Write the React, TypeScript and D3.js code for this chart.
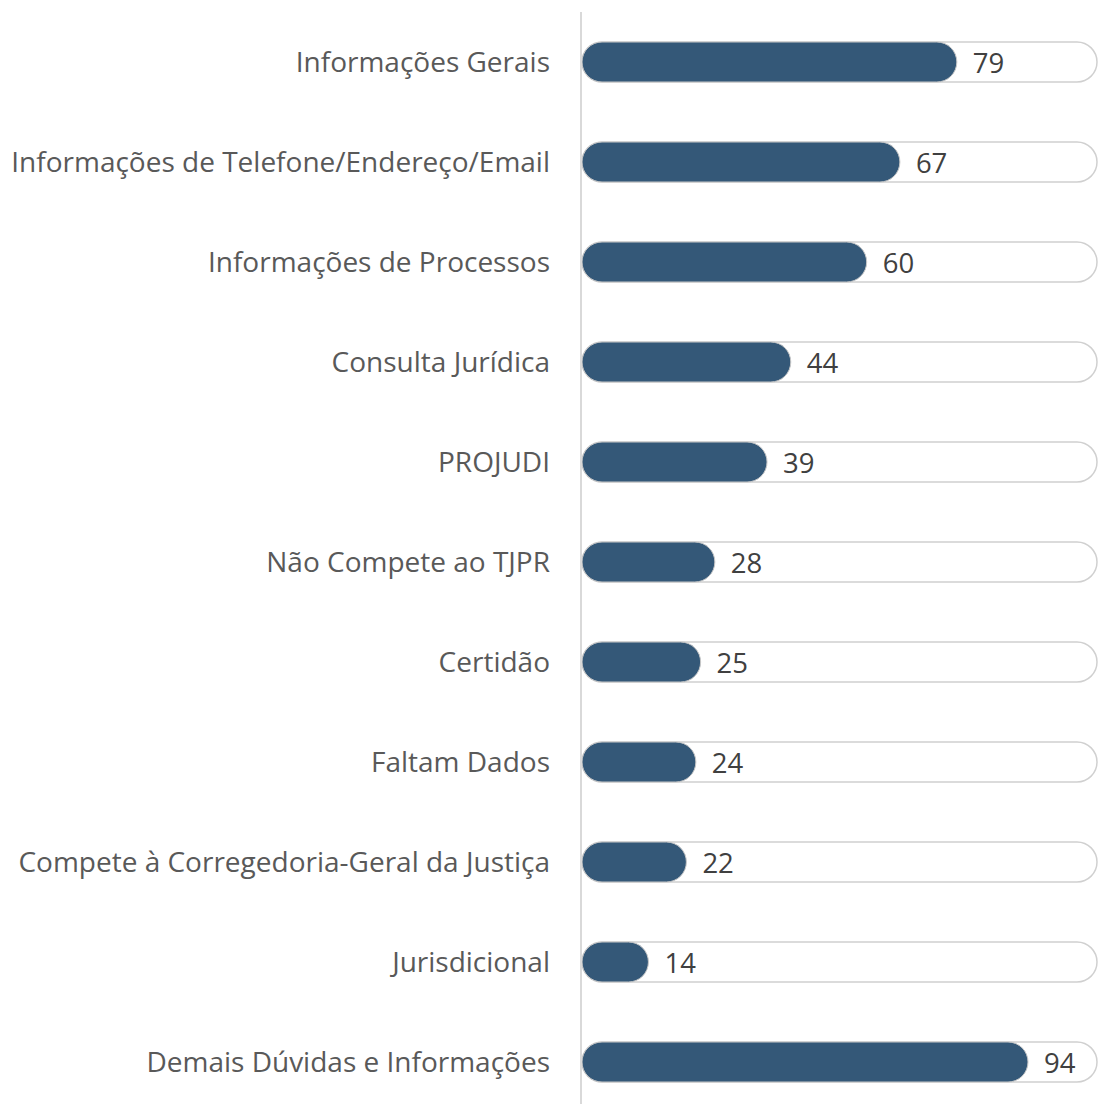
import React from "react";
import * as d3 from "d3";

const categories = [
  "Informações Gerais",
  "Informações de Telefone/Endereço/Email",
  "Informações de Processos",
  "Consulta Jurídica",
  "PROJUDI",
  "Não Compete ao TJPR",
  "Certidão",
  "Faltam Dados",
  "Compete à Corregedoria-Geral da Justiça",
  "Jurisdicional",
  "Demais Dúvidas e Informações",
];
const values = [79, 67, 60, 44, 39, 28, 25, 24, 22, 14, 94];

export default function App() {
  const W = 1098, H = 1104;
  const x0 = 582;
  const x = d3.scaleLinear().domain([0, 94]).range([x0, 1028]);
  const y = d3.scaleBand<string>().domain(categories).range([12, 1112]).paddingInner(0.6).paddingOuter(0.3);
  const bw = y.bandwidth();
  const font = "'Open Sans', 'Noto Sans', sans-serif";
  return (
    <svg width={W} height={H} style={{ position: "absolute", left: 0, top: 0 }}>
      <rect width={W} height={H} fill="#fff" />
      {categories.map((c, i) => {
        const yy = y(c)!;
        const cy = yy + bw / 2;
        const r = bw / 2;
        return (
          <g key={c}>
            <rect x={x0} y={yy} width={1097 - x0} height={bw} rx={r} ry={r} fill="#fff" stroke="#d0d0d0" strokeWidth={1.5} />
            <rect x={x0} y={yy} width={x(values[i]) - x0} height={bw} rx={r} ry={r} fill="#345878" stroke="#c8c8c8" strokeWidth={1} />
            <text x={550} y={cy} dy="0.35em" textAnchor="end" fontFamily={font} fontSize={28} fill="#595959">{c}</text>
            <text x={x(values[i]) + 16} y={cy} dy="0.4em" textAnchor="start" fontFamily={font} fontSize={27.5} fill="#404040">{values[i]}</text>
          </g>
        );
      })}
      <line x1={581} x2={581} y1={12} y2={H} stroke="#d9d9d9" strokeWidth={2} />
    </svg>
  );
}
